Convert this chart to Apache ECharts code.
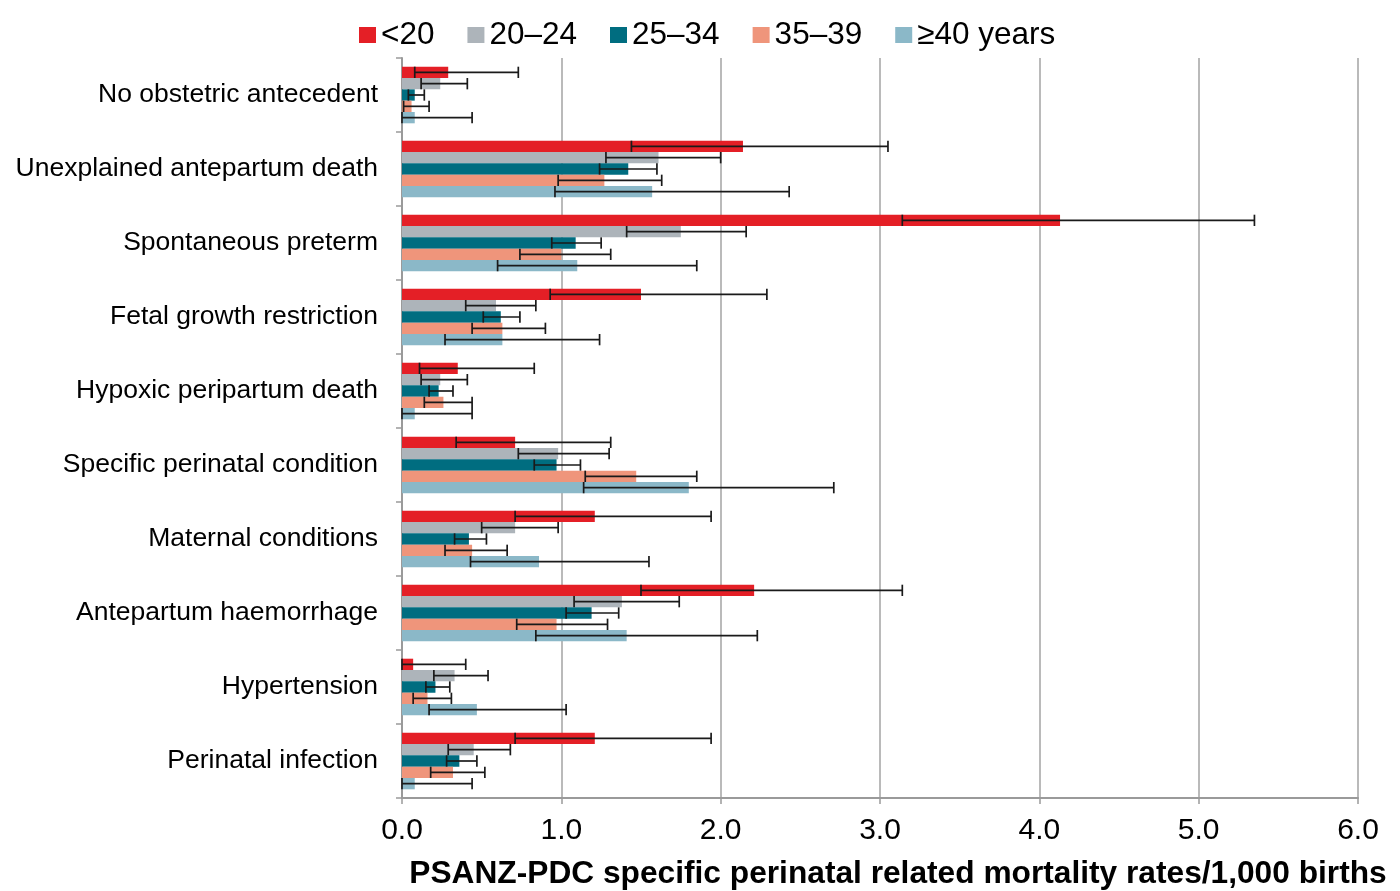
<!DOCTYPE html>
<html>
<head>
<meta charset="utf-8">
<script src="https://cdn.jsdelivr.net/npm/echarts@6/dist/echarts.min.js"></script>
<style>
html,body{margin:0;padding:0;background:#fff;}
#chart{width:1400px;height:891px;}
</style>
</head>
<body>
<div id="chart"></div>
<script>
var categories = [
  'No obstetric antecedent',
  'Unexplained antepartum death',
  'Spontaneous preterm',
  'Fetal growth restriction',
  'Hypoxic peripartum death',
  'Specific perinatal condition',
  'Maternal conditions',
  'Antepartum haemorrhage',
  'Hypertension',
  'Perinatal infection'
];
var seriesNames = ['<20', '20\u201324', '25\u201334', '35\u201339', '\u226540 years'];
var seriesColors = ['#E41F26', '#ADB4BA', '#006D80', '#EF957B', '#8BB8C8'];

var rateUnder20 = [0.29, 2.14, 4.13, 1.50, 0.35, 0.71, 1.21, 2.21, 0.07, 1.21];
var lowUnder20  = [0.08, 1.44, 3.14, 0.93, 0.11, 0.34, 0.71, 1.50, 0.00, 0.71];
var highUnder20 = [0.73, 3.05, 5.35, 2.29, 0.83, 1.31, 1.94, 3.14, 0.40, 1.94];

var rate20to24 = [0.24, 1.61, 1.75, 0.59, 0.24, 0.98, 0.71, 1.38, 0.33, 0.45];
var low20to24  = [0.12, 1.28, 1.41, 0.40, 0.12, 0.73, 0.50, 1.08, 0.20, 0.29];
var high20to24 = [0.41, 2.00, 2.16, 0.84, 0.41, 1.30, 0.98, 1.74, 0.54, 0.68];

var rate25to34 = [0.08, 1.42, 1.09, 0.62, 0.23, 0.97, 0.42, 1.19, 0.21, 0.36];
var low25to34  = [0.04, 1.24, 0.94, 0.51, 0.17, 0.83, 0.33, 1.03, 0.15, 0.28];
var high25to34 = [0.14, 1.60, 1.25, 0.74, 0.32, 1.12, 0.53, 1.36, 0.30, 0.47];

var rate35to39 = [0.06, 1.27, 1.00, 0.63, 0.26, 1.47, 0.44, 0.97, 0.16, 0.32];
var low35to39  = [0.01, 0.98, 0.74, 0.44, 0.14, 1.15, 0.27, 0.72, 0.07, 0.18];
var high35to39 = [0.17, 1.63, 1.31, 0.90, 0.44, 1.85, 0.66, 1.29, 0.31, 0.52];

var rate40plus = [0.08, 1.57, 1.10, 0.63, 0.08, 1.80, 0.86, 1.41, 0.47, 0.08];
var low40plus  = [0.00, 0.96, 0.60, 0.27, 0.00, 1.14, 0.43, 0.84, 0.17, 0.00];
var high40plus = [0.44, 2.43, 1.85, 1.24, 0.44, 2.71, 1.55, 2.23, 1.03, 0.44];

var xTicks = [0, 1, 2, 3, 4, 5, 6];

var rates = [rateUnder20, rate20to24, rate25to34, rate35to39, rate40plus];
var lows = [lowUnder20, low20to24, low25to34, low35to39, low40plus];
var highs = [highUnder20, high20to24, high25to34, high35to39, high40plus];

var CAT_GAP = 0.235;
var FONT = '"Liberation Sans", Arial, Helvetica, sans-serif';
var nGroups = seriesNames.length;

function makeErrorRenderer(k) {
  return function (params, api) {
    var cat = api.value(0);
    var lo = api.value(1);
    var hi = api.value(2);
    var p1 = api.coord([lo, cat]);
    var p2 = api.coord([hi, cat]);
    var band = api.size([0, 1])[1];
    var inner = band * (1 - CAT_GAP);
    var bw = inner / nGroups;
    var y = p1[1] - inner / 2 + bw * (k + 0.5);
    var ch = bw / 2;
    var style = { stroke: '#1a1a1a', lineWidth: 1.7 };
    return {
      type: 'group',
      children: [
        { type: 'line', shape: { x1: p1[0], y1: y, x2: p2[0], y2: y }, style: style },
        { type: 'line', shape: { x1: p1[0], y1: y - ch, x2: p1[0], y2: y + ch }, style: style },
        { type: 'line', shape: { x1: p2[0], y1: y - ch, x2: p2[0], y2: y + ch }, style: style }
      ]
    };
  };
}

var series = [];
for (var i = 0; i < nGroups; i++) {
  series.push({
    name: seriesNames[i],
    type: 'bar',
    data: rates[i],
    barGap: '0%',
    barCategoryGap: (CAT_GAP * 100) + '%',
    itemStyle: { color: seriesColors[i] },
    z: 2
  });
}
for (var j = 0; j < nGroups; j++) {
  var d = [];
  for (var c = 0; c < categories.length; c++) {
    d.push([c, lows[j][c], highs[j][c]]);
  }
  series.push({
    name: 'err' + j,
    type: 'custom',
    renderItem: makeErrorRenderer(j),
    encode: { x: [1, 2], y: 0 },
    data: d,
    z: 10,
    silent: true
  });
}

var chart = echarts.init(document.getElementById('chart'), null, { renderer: 'canvas' });
chart.setOption({
  animation: false,
  backgroundColor: '#ffffff',
  textStyle: { fontFamily: FONT },
  legend: {
    data: seriesNames,
    left: 359,
    top: 19,
    padding: 0,
    icon: 'rect',
    itemWidth: 17,
    itemHeight: 16,
    itemGap: 33,
    textStyle: { fontSize: 31.5, color: '#000', fontFamily: FONT }
  },
  grid: { left: 402, right: 42, top: 58, bottom: 93, containLabel: false, outerBoundsMode: 'none' },
  xAxis: {
    type: 'value',
    min: xTicks[0],
    max: xTicks[xTicks.length - 1],
    interval: 1,
    name: 'PSANZ-PDC specific perinatal related mortality rates/1,000 births',
    nameLocation: 'middle',
    nameGap: 60,
    nameTextStyle: { fontSize: 31.7, fontWeight: 'bold', color: '#000', fontFamily: FONT, padding: [0, 0, 0, 36] },
    axisLine: { show: true, lineStyle: { color: '#9a9a9a', width: 2 } },
    axisTick: { show: true, length: 6, lineStyle: { color: '#9a9a9a', width: 1.5 } },
    axisLabel: { fontSize: 30, color: '#000', margin: 18, fontFamily: FONT,
      formatter: function (v) { return v.toFixed(1); } },
    splitLine: { show: true, lineStyle: { color: '#a3a3a3', width: 1.5 } }
  },
  yAxis: {
    type: 'category',
    data: categories,
    inverse: true,
    axisLine: { show: true, lineStyle: { color: '#9a9a9a', width: 2 } },
    axisTick: { show: true, length: 6, lineStyle: { color: '#9a9a9a', width: 1.5 } },
    axisLabel: { fontSize: 26.5, color: '#000', margin: 24, fontFamily: FONT },
    splitLine: { show: false }
  },
  series: series
});
</script>
</body>
</html>
